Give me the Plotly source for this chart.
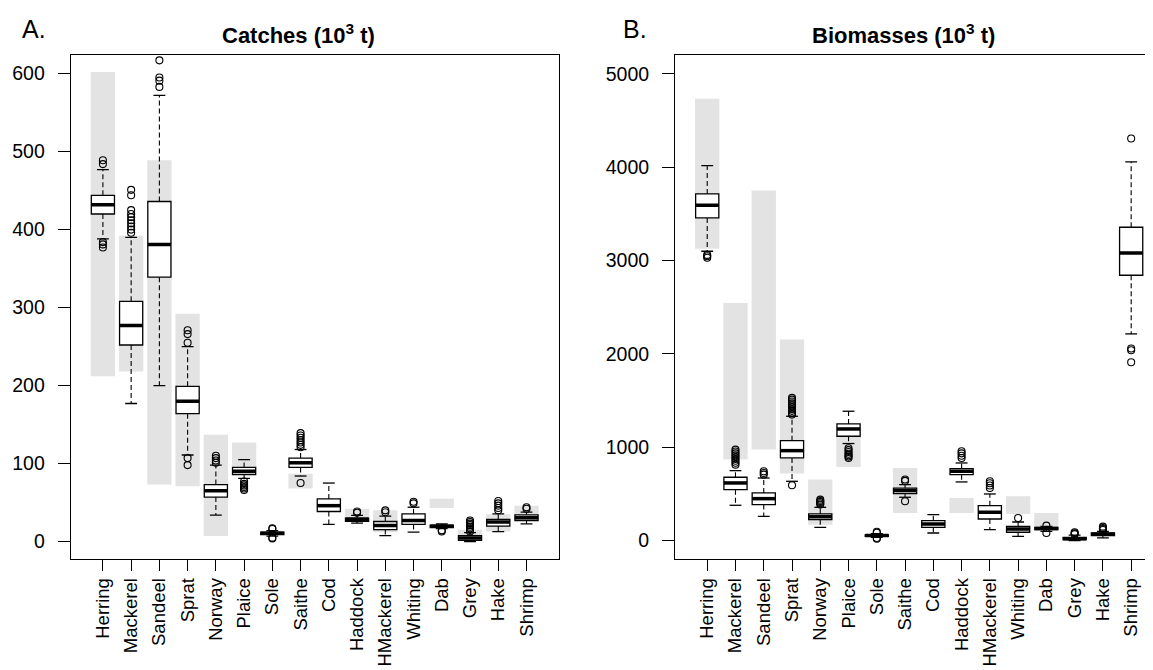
import plotly.graph_objects as go

species = ["Herring", "Mackerel", "Sandeel", "Sprat", "Norway", "Plaice", "Sole", "Saithe",
           "Cod", "Haddock", "HMackerel", "Whiting", "Dab", "Grey", "Hake", "Shrimp"]

# ---------------- Catches (10^3 t) ----------------
catch_q1 = [420, 252, 339, 164, 57, 86, 9, 95, 38.5, 26, 15.4, 22, 18, 1.5, 19.8, 27]
catch_med = [432, 277, 381, 180, 65, 90, 10.5, 101, 46, 28.5, 20.6, 27, 19.5, 4.7, 24.9, 30.5]
catch_q3 = [444, 308, 436, 199, 73, 95, 12, 107, 54.6, 30, 25.7, 35.5, 21, 7.5, 28.3, 34.3]
catch_lo = [388, 177, 200, 111, 34, 81, 7, 84, 22, 23.6, 7.7, 12, 16.5, 0, 12.8, 22.7]
catch_hi = [477, 390, 572, 250, 98, 105, 14, 118, 75, 33.5, 32.6, 44, 22.5, 11.5, 35.6, 37.8]
catch_out = [
    [377, 381, 384, 484, 489],
    [396, 400, 404, 408, 412, 416, 420, 425, 444, 451],
    [583, 591, 595, 617],
    [98, 107, 255, 266, 271],
    [101, 104, 107, 110],
    [66, 68, 70, 72, 74, 77],
    [4, 5, 16, 17],
    [75, 121, 124, 127, 130, 133, 136, 139],
    [],
    [37, 38.5],
    [37.5, 40],
    [49, 51],
    [13, 14.5],
    [13, 15, 17, 19, 21, 23, 25, 27],
    [40, 43, 46, 49, 52],
    [42, 44],
]
catch_range_lo = [212, 218, 73, 71, 7, 88, None, 68, None, 30, 12, None, 43, 3, 13, 27]
catch_range_hi = [602, 392, 489, 292, 137, 127, None, 87, None, 42, 40, None, 55, 15, 35, 46]

# ---------------- Biomasses (10^3 t) ----------------
bio_q1 = [3456, 546, 386, 886, 225, 1118, 45, 503, 143, 707, 232, 90, 118, 11, 54, 2842]
bio_med = [3592, 618, 450, 964, 257, 1196, 55, 536, 179, 743, 304, 125, 130, 21, 68, 3081]
bio_q3 = [3713, 679, 511, 1071, 286, 1250, 62, 563, 214, 771, 375, 154, 143, 36, 82, 3356]
bio_lo = [3099, 379, 261, 636, 143, 1040, 35, 465, 82, 629, 118, 47, 100, 0, 29, 2214]
bio_hi = [4016, 750, 671, 1332, 357, 1386, 75, 600, 278, 832, 500, 200, 152, 60, 100, 4056]
bio_out = [
    [3030, 3045, 3060],
    [814, 835, 855, 875, 895, 915, 935, 955, 975],
    [707, 725, 743],
    [593, 1350, 1370, 1390, 1410, 1430, 1450, 1470, 1490, 1510, 1529],
    [386, 400, 415, 425, 439],
    [886, 900, 915, 930, 950, 970, 990],
    [20, 28, 85, 95],
    [422, 640, 655],
    [],
    [886, 910, 935, 957],
    [564, 590, 615, 636],
    [243],
    [82, 161],
    [70, 80, 90],
    [115, 125, 135, 150],
    [1911, 2039, 2057, 4306],
]
bio_range_lo = [3127, 868, 975, 718, 171, 790, None, 296, None, 296, None, 286, 154, None, None, None]
bio_range_hi = [4733, 2546, 3749, 2154, 654, 1150, None, 779, None, 457, None, 476, 297, None, None, None]

W, H = 1153, 670
FONT = "Liberation Sans, Arial, sans-serif"
BOXW = 0.82
RANGEW = 0.86
CAPW = 0.42

fig = go.Figure()


def add_panel(xa, ya, q1, med, q3, lo, hi, outs, rlo, rhi):
    idx = list(range(len(species)))
    # grey ranges
    rx, ry, rb = [], [], []
    for i in idx:
        if rlo[i] is not None:
            rx.append(i)
            rb.append(rlo[i])
            ry.append(rhi[i] - rlo[i])
    fig.add_trace(go.Bar(x=rx, y=ry, base=rb, width=RANGEW, marker=dict(color="#e3e3e3", line=dict(width=0)),
                         xaxis=xa, yaxis=ya, showlegend=False, hoverinfo="skip"))
    # whiskers (dashed)
    wx, wy = [], []
    for i in idx:
        wx += [i, i, None, i, i, None]
        wy += [q3[i], hi[i], None, q1[i], lo[i], None]
    fig.add_trace(go.Scatter(x=wx, y=wy, mode="lines", line=dict(color="black", width=1.1, dash="5px,3px"),
                             xaxis=xa, yaxis=ya, showlegend=False, hoverinfo="skip"))
    # staples
    sx, sy = [], []
    for i in idx:
        sx += [i - CAPW / 2, i + CAPW / 2, None, i - CAPW / 2, i + CAPW / 2, None]
        sy += [hi[i], hi[i], None, lo[i], lo[i], None]
    fig.add_trace(go.Scatter(x=sx, y=sy, mode="lines", line=dict(color="black", width=1.3),
                             xaxis=xa, yaxis=ya, showlegend=False, hoverinfo="skip"))
    # boxes
    fig.add_trace(go.Box(x=idx, q1=q1, median=med, q3=q3, lowerfence=q1, upperfence=q3,
                         width=BOXW, fillcolor="white", line=dict(color="black", width=1.3),
                         boxpoints=False, xaxis=xa, yaxis=ya, showlegend=False, hoverinfo="skip"))
    # medians (thick)
    mx, my = [], []
    for i in idx:
        mx += [i - BOXW / 2, i + BOXW / 2, None]
        my += [med[i], med[i], None]
    fig.add_trace(go.Scatter(x=mx, y=my, mode="lines", line=dict(color="black", width=3.5),
                             xaxis=xa, yaxis=ya, showlegend=False, hoverinfo="skip"))
    # outliers
    ox, oy = [], []
    for i in idx:
        for v in outs[i]:
            ox.append(i)
            oy.append(v)
    fig.add_trace(go.Scatter(x=ox, y=oy, mode="markers",
                             marker=dict(symbol="circle-open", size=7, color="black", line=dict(width=1.1)),
                             xaxis=xa, yaxis=ya, showlegend=False, hoverinfo="skip"))


add_panel("x", "y", catch_q1, catch_med, catch_q3, catch_lo, catch_hi, catch_out, catch_range_lo, catch_range_hi)
add_panel("x2", "y2", bio_q1, bio_med, bio_q3, bio_lo, bio_hi, bio_out, bio_range_lo, bio_range_hi)

ydom = [(H - 550.7) / H, (H - 47.3) / H]
xcommon = dict(tickmode="array", tickvals=list(range(len(species))), ticktext=species, tickangle=-90,
               showgrid=False, zeroline=False, showline=True, mirror=True, linecolor="black", linewidth=1,
               ticks="outside", ticklen=11, tickwidth=1, tickcolor="black", ticklabelstandoff=0,
               tickfont=dict(family=FONT, size=18.5, color="black"))
ycommon = dict(showgrid=False, zeroline=False, showline=True, mirror=True, linecolor="black", linewidth=1,
               ticks="outside", ticklen=12, tickwidth=1, tickcolor="black", ticklabelstandoff=9,
               tickfont=dict(family=FONT, size=19.5, color="black"), domain=ydom)

fig.update_layout(
    width=W, height=H, margin=dict(l=0, r=0, t=0, b=0),
    paper_bgcolor="white", plot_bgcolor="white",
    barmode="overlay", boxmode="overlay", showlegend=False,
    xaxis=dict(xcommon, domain=[62.7 / W, 550.7 / W], range=[-1.14, 16.14], anchor="y"),
    yaxis=dict(ycommon, range=[-22, 623.5], tickvals=[0, 100, 200, 300, 400, 500, 600], anchor="x"),
    xaxis2=dict(xcommon, domain=[667 / W, 1152 / W], range=[-1.14, 16.02], anchor="y2"),
    yaxis2=dict(ycommon, range=[-193, 5197], tickvals=[0, 1000, 2000, 3000, 4000, 5000], anchor="x2"),
    annotations=[
        dict(text="A.", x=12 / W, y=1 - 21 / H, xref="paper", yref="paper", xanchor="left", yanchor="middle",
             showarrow=False, font=dict(family=FONT, size=25, color="black")),
        dict(text="B.", x=613 / W, y=1 - 21 / H, xref="paper", yref="paper", xanchor="left", yanchor="middle",
             showarrow=False, font=dict(family=FONT, size=25, color="black")),
        dict(text="<b>Catches (10<sup>3</sup> t)</b>", x=290 / W, y=1 - 26 / H, xref="paper", yref="paper",
             xanchor="center", yanchor="middle", showarrow=False,
             font=dict(family=FONT, size=22, color="black")),
        dict(text="<b>Biomasses (10<sup>3</sup> t)</b>", x=895 / W, y=1 - 26 / H, xref="paper", yref="paper",
             xanchor="center", yanchor="middle", showarrow=False,
             font=dict(family=FONT, size=22, color="black")),
    ],
)

fig.write_html("out.html")
